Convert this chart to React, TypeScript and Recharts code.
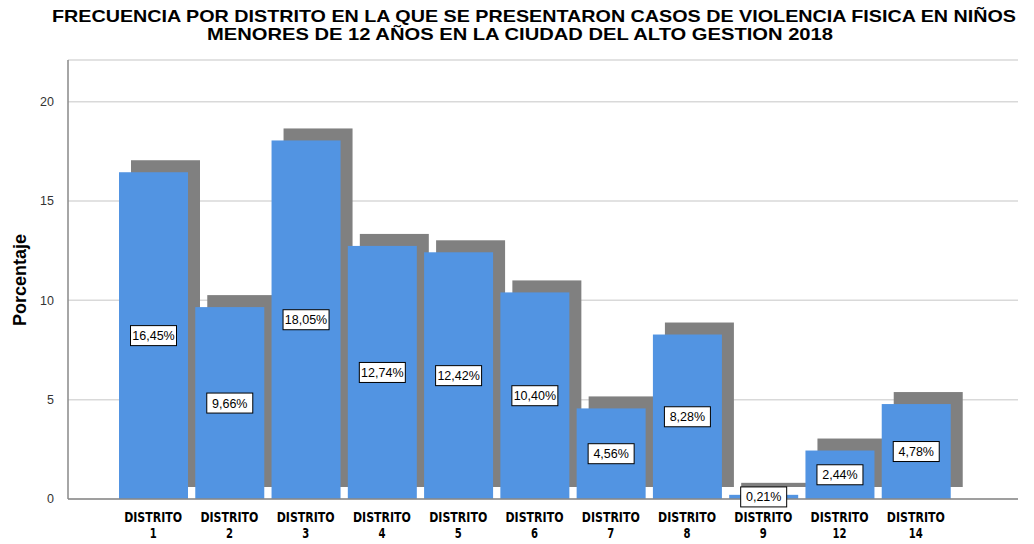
import { BarChart, Bar, XAxis, YAxis, CartesianGrid, LabelList } from 'recharts';

// distritos y porcentajes
const distritos = ['1', '2', '3', '4', '5', '6', '7', '8', '9', '12', '14'];
const porcentajes = [16.45, 9.66, 18.05, 12.74, 12.42, 10.4, 4.56, 8.28, 0.21, 2.44, 4.78];
const yTicks = [0, 5, 10, 15, 20];

const data = distritos.map((d, i) => ({ name: `DISTRITO ${d}`, num: d, pct: porcentajes[i] }));

const BLUE = '#5294e2';
const SHADOW = '#808080';
const OFF = 12;

const ShadowBar = (props: any) => {
    const { x, y, width, height } = props;
    return (
        <g>
            <rect x={x + OFF} y={y - OFF} width={width} height={height} fill={SHADOW} />
            <rect x={x} y={y} width={width} height={height} fill={BLUE} />
        </g>
    );
};

const PctLabel = (props: any) => {
    const { x, y, width, height, value } = props;
    const cx = x + width / 2;
    const cy = y + height / 2;
    const txt = `${Number(value).toFixed(2).replace('.', ',')}%`;
    return (
        <g>
            <rect x={cx - 23} y={cy - 10} width={46} height={20} fill="#fff" stroke="#000" strokeWidth={1} />
            <text x={cx} y={cy + 4.5} textAnchor="middle" fontSize={12.5} fontFamily="Arial, 'Liberation Sans', sans-serif" fill="#000">
                {txt}
            </text>
        </g>
    );
};

const DistTick = (props: any) => {
    const { x, y, payload } = props;
    const num = String(payload.value).replace('DISTRITO ', '');
    const numW = num.length * 7;
    return (
        <g transform={`translate(${x},${y})`}>
            <text x={0} y={15} textAnchor="middle" fontFamily="'DejaVu Sans', sans-serif" fontWeight="bold" fontSize={13.5} fill="#000" textLength={58} lengthAdjust="spacingAndGlyphs">
                DISTRITO
            </text>
            <text x={0} y={31} textAnchor="middle" fontFamily="'DejaVu Sans', sans-serif" fontWeight="bold" fontSize={13.5} fill="#000" textLength={numW} lengthAdjust="spacingAndGlyphs">
                {num}
            </text>
        </g>
    );
};

export default function App() {
    return (
        <div style={{ position: 'absolute', left: 0, top: 0, width: 1034, height: 544, background: '#fff' }}>
            <BarChart width={1034} height={544} data={data} margin={{ top: 60, right: 16, left: 0, bottom: 0 }} barSize={69}>
                <CartesianGrid vertical={false} stroke="#d9d9d9" strokeWidth={1.5} />
                <XAxis
                    dataKey="name"
                    padding={{ left: 47, right: 64 }}
                    tickLine={false}
                    axisLine={{ stroke: '#888', strokeWidth: 1.5 }}
                    height={45}
                    interval={0}
                    tick={<DistTick />}
                />
                <YAxis
                    domain={[0, 22.1]}
                    ticks={yTicks}
                    width={68}
                    tickLine={false}
                    axisLine={{ stroke: '#888', strokeWidth: 1.5 }}
                    tick={{ fontSize: 12.5, fill: '#333', fontFamily: "Arial, 'Liberation Sans', sans-serif" }}
                    tickMargin={8}
                />
                <Bar dataKey="pct" shape={<ShadowBar />} isAnimationActive={false}>
                    <LabelList dataKey="pct" content={<PctLabel />} />
                </Bar>
            </BarChart>
            <svg width={1034} height={544} style={{ position: 'absolute', left: 0, top: 0, pointerEvents: 'none' }}>
                <text x={534} y={22} textAnchor="middle" fontFamily="Arial, 'Liberation Sans', sans-serif" fontWeight="bold" fontSize={16.5} fill="#000" textLength={964} lengthAdjust="spacingAndGlyphs">
                    FRECUENCIA POR DISTRITO EN LA QUE SE PRESENTARON CASOS DE VIOLENCIA FISICA EN NIÑOS
                </text>
                <text x={520} y={40} textAnchor="middle" fontFamily="Arial, 'Liberation Sans', sans-serif" fontWeight="bold" fontSize={16.5} fill="#000" textLength={626} lengthAdjust="spacingAndGlyphs">
                    MENORES DE 12 AÑOS EN LA CIUDAD DEL ALTO GESTION 2018
                </text>
                <text x={26} y={280} transform="rotate(-90 26 280)" textAnchor="middle" fontFamily="Arial, 'Liberation Sans', sans-serif" fontWeight="bold" fontSize={18} fill="#000">
                    Porcentaje
                </text>
            </svg>
        </div>
    );
}
